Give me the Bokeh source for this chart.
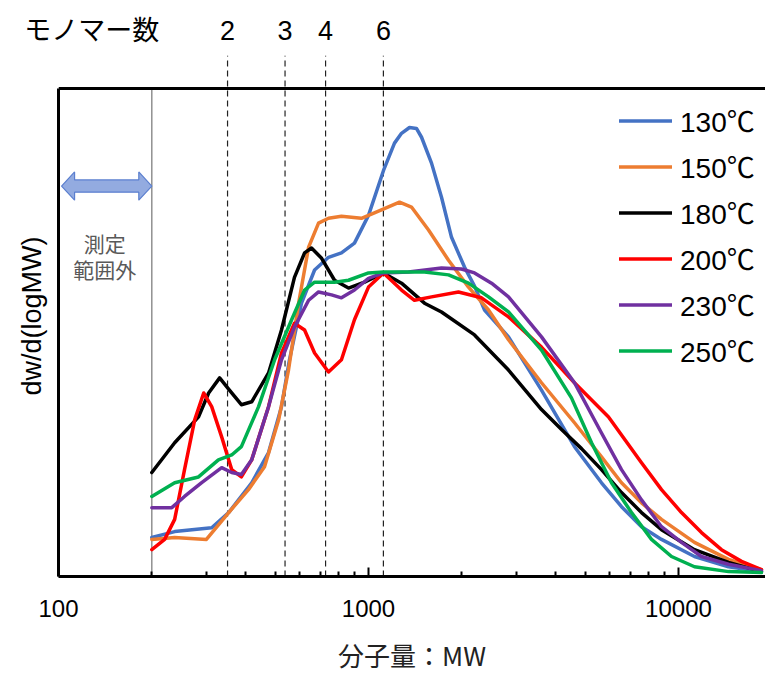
import math
from bokeh.plotting import figure
from bokeh.models import Range1d, FixedTicker, Label, Legend, LegendItem, Span, LogAxis
from bokeh.embed import file_html
from bokeh.resources import INLINE

SANS = "'Liberation Sans', Arial, 'Noto Sans CJK JP', sans-serif"
JP = "'Noto Sans CJK JP', sans-serif"

# ---------------- data ----------------
series_names = ["130℃", "150℃", "180℃", "200℃", "230℃", "250℃"]
series_colors = ["#4472C4", "#ED7D31", "#000000", "#FF0000", "#7030A0", "#00B050"]

mw_130 = [200, 237, 312, 354, 420, 476, 524, 556, 608, 670, 743, 818, 901, 1000, 1118, 1213, 1278, 1356, 1428, 1483,
          1597, 1720, 1853, 2040, 2198, 2368, 2829, 3615, 4618, 5645, 6549, 7598, 8814, 11260, 14500, 18520]
dw_130 = [8.0, 9.2, 10.0, 13.1, 19.2, 25.4, 34.8, 44.4, 56.0, 62.8, 65.4, 66.3, 68.3, 74.0, 83.2, 88.8, 90.8, 92.0, 91.8, 90.0,
          84.7, 77.7, 69.5, 63.4, 59.5, 54.6, 49.1, 38.2, 26.6, 19.2, 14.3, 10.2, 7.6, 4.1, 2.0, 1.0]

mw_150 = [200, 237, 300, 354, 410, 462, 513, 552, 595, 641, 690, 743, 818, 949, 1101, 1259, 1376, 1562, 1812, 2102,
          2439, 2829, 3615, 4618, 5645, 6549, 7598, 8814, 11260, 14500, 18520]
dw_150 = [7.6, 8.0, 7.6, 13.1, 17.8, 22.5, 32.1, 42.3, 56.0, 67.5, 72.4, 73.4, 73.8, 73.4, 75.1, 76.7, 75.7, 71.0, 64.8, 59.3,
          54.6, 48.5, 39.7, 31.5, 24.5, 19.2, 15.1, 11.7, 7.0, 3.5, 1.4]

mw_180 = [200, 237, 283, 305, 331, 356, 389, 420, 476, 524, 577, 622, 655, 706, 777, 862, 971, 1118, 1278, 1516,
          1720, 2198, 2829, 3615, 4195, 4866, 5645, 6549, 7598, 8814, 11260, 14500, 18520]
dw_180 = [21.3, 27.4, 32.7, 37.6, 40.7, 38.2, 35.2, 35.8, 41.7, 50.5, 61.3, 66.3, 67.3, 65.2, 60.7, 59.1, 60.3, 62.2, 60.1, 56.0,
          54.2, 49.5, 42.3, 34.2, 30.1, 26.2, 21.9, 17.2, 13.1, 9.6, 5.5, 2.9, 1.0]

mw_200 = [200, 220, 237, 255, 275, 294, 312, 336, 362, 389, 420, 476, 524, 577, 622, 670, 743, 818, 901, 1000,
          1118, 1278, 1407, 1597, 1951, 2315, 2829, 3615, 4618, 5948, 7598, 8814, 10225, 11864, 13760, 15970, 18520]
dw_200 = [5.5, 7.6, 11.7, 21.9, 32.1, 37.6, 34.8, 28.6, 21.9, 20.4, 23.9, 34.8, 45.8, 51.9, 50.5, 45.8, 41.9, 44.4, 52.6, 59.3,
          62.2, 58.7, 56.6, 57.3, 58.3, 57.1, 53.2, 47.0, 39.7, 32.7, 23.3, 17.8, 13.1, 9.0, 5.5, 3.1, 1.4]

mw_230 = [200, 232, 255, 289, 336, 362, 389, 420, 476, 524, 577, 641, 690, 760, 818, 901, 1000, 1118, 1346, 1720,
          1995, 2198, 2494, 2829, 3615, 4618, 5645, 6549, 7598, 8814, 10225, 11864, 14500, 18520]
dw_230 = [14.1, 14.1, 16.4, 19.2, 22.3, 21.3, 20.9, 23.9, 34.8, 44.4, 51.1, 56.6, 58.3, 57.7, 57.1, 58.7, 61.1, 62.2, 62.4, 63.2,
          63.0, 62.2, 60.1, 57.3, 49.1, 39.7, 29.4, 21.9, 15.7, 10.2, 7.0, 4.1, 2.5, 1.2]

mw_250 = [200, 237, 283, 328, 362, 389, 442, 498, 565, 622, 670, 777, 862, 1000, 1118, 1516, 1812, 2102, 2439, 2829,
          3615, 4516, 5242, 6081, 7055, 8183, 9494, 11260, 14500, 18520]
dw_250 = [16.4, 19.2, 20.4, 23.9, 24.9, 26.6, 34.8, 44.4, 52.6, 58.7, 60.3, 60.3, 60.7, 62.2, 62.4, 62.4, 61.8, 60.1, 57.3, 54.2,
          46.4, 36.6, 27.4, 19.2, 13.1, 7.6, 4.1, 2.0, 1.0, 0.8]

x_major_ticks = [100, 1000, 10000]
x_tick_labels = ["100", "1000", "10000"]
x_minor_ticks = [200, 300, 400, 500, 600, 700, 800, 900, 2000, 3000, 4000, 5000, 6000, 7000, 8000, 9000]

monomer_title = "モノマー数"
monomer_title_mw = 128
monomer_labels = ["2", "3", "4", "6"]
monomer_mw = [351, 538, 727, 1117]
limit_mw = 200          # lower limit of the measurement range

# ---------------- figure ----------------
X_MIN, X_MAX = 100, 19085
Y_MIN, Y_MAX, Y_FRAME = 0, 106.75, 100

p = figure(width=765, height=675, x_axis_type="log",
           x_range=Range1d(X_MIN, X_MAX), y_range=Range1d(Y_MIN, Y_MAX),
           output_backend="svg", toolbar_location=None,
           min_border_left=58, min_border_right=0, min_border_top=55, min_border_bottom=98)
p.outline_line_color = None
p.xgrid.grid_line_color = None
p.ygrid.grid_line_color = None

# bottom x axis
xa = p.xaxis[0]
xa.ticker = FixedTicker(ticks=x_major_ticks, minor_ticks=x_minor_ticks)
xa.major_label_overrides = {t: l for t, l in zip(x_major_ticks, x_tick_labels)}
xa.axis_line_width = 3
xa.axis_line_color = "black"
xa.major_tick_in = 9
xa.major_tick_out = 0
xa.minor_tick_in = 5
xa.minor_tick_out = 0
xa.major_tick_line_width = 2
xa.minor_tick_line_width = 2
xa.major_label_text_font = SANS
xa.major_label_text_font_size = "24px"
xa.major_label_text_color = "black"
xa.major_label_standoff = 23
xa.axis_label = "分子量：MW"
xa.axis_label_text_font = JP
xa.axis_label_text_font_size = "26px"
xa.axis_label_text_font_style = "normal"
xa.axis_label_text_color = "#222222"
xa.axis_label_standoff = 16

# top axis carrying the monomer-number labels
top_ticks = [monomer_title_mw] + monomer_mw
top_labels = [monomer_title] + monomer_labels
ta = LogAxis(ticker=FixedTicker(ticks=top_ticks, minor_ticks=[]),
             major_label_overrides={t: l for t, l in zip(top_ticks, top_labels)},
             axis_line_color=None, major_tick_line_color=None, minor_tick_line_color=None,
             major_label_text_font=SANS, major_label_text_font_size="27px",
             major_label_text_color="black", major_label_standoff=4)
p.add_layout(ta, "above")

# y axis (line + title only)
ya = p.yaxis[0]
ya.ticker = FixedTicker(ticks=[])
ya.bounds = (Y_MIN, Y_FRAME)
ya.axis_line_width = 3
ya.axis_line_color = "black"
ya.major_tick_in = 0
ya.major_tick_out = 0
ya.minor_tick_in = 0
ya.minor_tick_out = 0
ya.axis_label = "dw/d(logMW)"
ya.axis_label_text_font = SANS
ya.axis_label_text_font_size = "27px"
ya.axis_label_text_font_style = "normal"
ya.axis_label_text_color = "black"
ya.axis_label_standoff = 12

# top border of the chart area
p.add_layout(Span(location=Y_FRAME, dimension="width", line_color="black", line_width=3))

# measurement-limit line
p.segment(x0=[limit_mw], y0=[Y_MIN], x1=[limit_mw], y1=[Y_FRAME], line_color="#7f7f7f", line_width=1.3)

# monomer dashed lines
p.segment(x0=monomer_mw, y0=[Y_MIN] * len(monomer_mw), x1=monomer_mw, y1=[Y_MAX] * len(monomer_mw),
          line_color="#222222", line_width=1.2, line_dash="6 4")

# double arrow (out of measurement range)
ARROW_Y = 80.0
lx0, lx1 = math.log10(X_MIN * 1.023), math.log10(limit_mw)
head = 0.042
body_h, head_h = 1.25, 2.9
ax = [lx0, lx0 + head, lx0 + head, lx1 - head, lx1 - head, lx1, lx1 - head, lx1 - head, lx0 + head, lx0 + head]
ay = [0, head_h, body_h, body_h, head_h, 0, -head_h, -body_h, -body_h, -head_h]
p.patch([10 ** v for v in ax], [ARROW_Y + v for v in ay],
        fill_color="#93abe0", line_color="#5b7fcf", line_width=1.2)

p.add_layout(Label(x=141, y=68.3, text="測定", text_align="center", text_baseline="middle",
                   text_font=JP, text_font_size="21px", text_color="#595959"))
p.add_layout(Label(x=141, y=63.0, text="範囲外", text_align="center", text_baseline="middle",
                   text_font=JP, text_font_size="21px", text_color="#595959"))

# curves
all_mw = [mw_130, mw_150, mw_180, mw_200, mw_230, mw_250]
all_dw = [dw_130, dw_150, dw_180, dw_200, dw_230, dw_250]
items = []
for name, col, xs, ys in zip(series_names, series_colors, all_mw, all_dw):
    r = p.line(xs, ys, line_color=col, line_width=3.5, line_join="round", line_cap="round")
    items.append(LegendItem(label=name, renderers=[r]))

legend = Legend(items=items, location=(561, 206), padding=0, margin=0, spacing=6,
                label_height=33, glyph_height=33, glyph_width=53, label_standoff=8,
                label_text_font=SANS, label_text_font_size="28px", label_text_color="black",
                border_line_color=None, background_fill_alpha=0)
p.add_layout(legend)

open("out.html", "w").write(file_html(p, INLINE))
